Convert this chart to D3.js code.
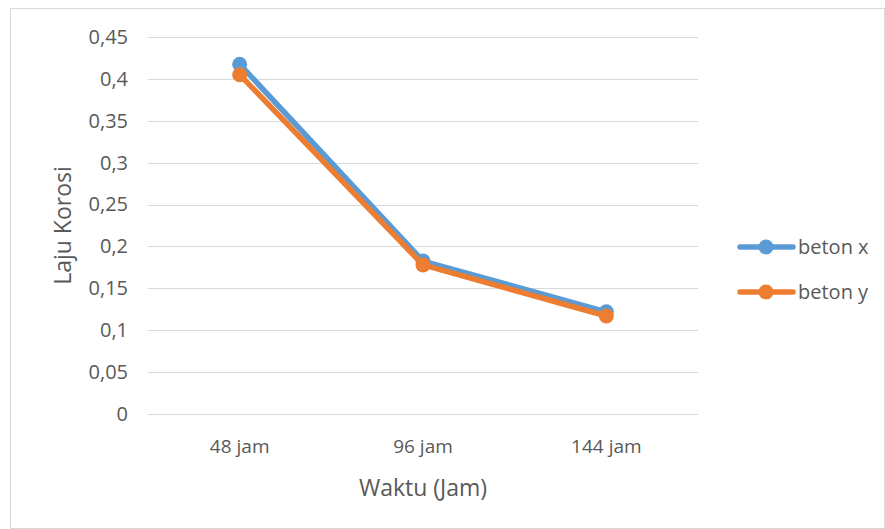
<!DOCTYPE html>
<html>
<head>
<meta charset="utf-8">
<script src="https://cdn.jsdelivr.net/npm/d3@7"></script>
<style>
  body { margin: 0; background: #fff; }
  text { font-family: 'Open Sans', 'Noto Sans', sans-serif; fill: #595959; }
</style>
</head>
<body>
<div id="chart"></div>
<script>
// data
const categories = ['48 jam', '96 jam', '144 jam']
const betonX = [0.4175, 0.1825, 0.122]
const betonY = [0.405, 0.178, 0.117]
const yTicks = [0, 0.05, 0.1, 0.15, 0.2, 0.25, 0.3, 0.35, 0.4, 0.45]
const seriesNames = ['beton x', 'beton y']
const colors = ['#5b9bd5', '#ed7d31']

const margin = { top: 37, left: 148, right: 187, bottom: 115 }
const fullWidth = 885
const fullHeight = 529
const width = fullWidth - margin.left - margin.right
const height = fullHeight - margin.top - margin.bottom

const root = d3
  .select('#chart')
  .append('svg')
  .attr('width', fullWidth)
  .attr('height', fullHeight)

root
  .append('rect')
  .attr('x', 10.5)
  .attr('y', 8.5)
  .attr('width', fullWidth - 11)
  .attr('height', fullHeight - 9)
  .attr('fill', 'none')
  .attr('stroke', '#d9d9d9')

const svg = root
  .append('g')
  .attr('transform', 'translate(' + margin.left + ',' + margin.top + ')')

const xPositionScale = d3
  .scaleBand()
  .domain(categories)
  .range([0, width])
const yPositionScale = d3
  .scaleLinear()
  .domain([0, 0.45])
  .range([height, 0])

const fmt = d => String(d).replace('.', ',')

// gridlines
svg
  .selectAll('.grid')
  .data(yTicks)
  .enter()
  .append('line')
  .attr('class', 'grid')
  .attr('x1', 0)
  .attr('x2', width)
  .attr('y1', d => Math.round(yPositionScale(d)) + 0.5)
  .attr('y2', d => Math.round(yPositionScale(d)) + 0.5)
  .attr('stroke', '#d9d9d9')
  .attr('stroke-width', 1)

const yAxis = d3.axisLeft(yPositionScale).tickValues(yTicks).tickFormat(fmt).tickSize(0).tickPadding(20)
svg
  .append('g')
  .attr('class', 'axis y-axis')
  .call(yAxis)
  .call(g => g.select('.domain').remove())
  .selectAll('text')
  .attr('font-size', 20)

const xAxis = d3.axisBottom(xPositionScale).tickSize(0).tickPadding(26)
svg
  .append('g')
  .attr('class', 'axis x-axis')
  .attr('transform', 'translate(0,' + height + ')')
  .call(xAxis)
  .call(g => g.select('.domain').remove())
  .selectAll('text')
  .attr('font-size', 19)

const cx = d => xPositionScale(d) + xPositionScale.bandwidth() / 2
const line = d3
  .line()
  .x(d => cx(d.cat))
  .y(d => yPositionScale(d.value))

;[betonX, betonY].forEach((values, i) => {
  const pts = values.map((v, j) => ({ cat: categories[j], value: v }))
  svg
    .append('path')
    .datum(pts)
    .attr('d', line)
    .attr('fill', 'none')
    .attr('stroke', colors[i])
    .attr('stroke-width', 5.5)
    .attr('stroke-linejoin', 'round')
    .attr('stroke-linecap', 'round')
  svg
    .selectAll('.dot' + i)
    .data(pts)
    .enter()
    .append('circle')
    .attr('cx', d => cx(d.cat))
    .attr('cy', d => yPositionScale(d.value))
    .attr('r', 7.5)
    .attr('fill', colors[i])
})

// axis titles
root
  .append('text')
  .attr('x', margin.left + width / 2)
  .attr('y', 496)
  .attr('text-anchor', 'middle')
  .attr('font-size', 23)
  .text('Waktu (Jam)')

root
  .append('text')
  .attr('transform', 'translate(71,' + (margin.top + height / 2) + ') rotate(-90)')
  .attr('text-anchor', 'middle')
  .attr('font-size', 23)
  .text('Laju Korosi')

// legend
const legend = root
  .selectAll('.legend')
  .data(seriesNames)
  .enter()
  .append('g')
  .attr('class', 'legend')
  .attr('transform', (d, i) => 'translate(738,' + (247 + i * 45) + ')')

legend
  .append('line')
  .attr('x1', 2)
  .attr('x2', 55)
  .attr('stroke', (d, i) => colors[i])
  .attr('stroke-width', 5.5)
  .attr('stroke-linecap', 'round')
legend
  .append('circle')
  .attr('cx', 28)
  .attr('r', 7.5)
  .attr('fill', (d, i) => colors[i])
legend
  .append('text')
  .attr('x', 60)
  .attr('dy', '0.35em')
  .attr('font-size', 20)
  .text(d => d)
</script>
</body>
</html>
